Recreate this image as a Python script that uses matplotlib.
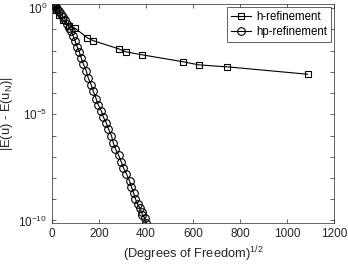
#===============================================================================
# Convergence plot: h- vs hp-refinement
#===============================================================================
import numpy as np
import matplotlib
matplotlib.use("Agg")
import matplotlib.pyplot as plt
from matplotlib.ticker import FixedLocator, FuncFormatter, NullLocator

#===============================================================================
# Data
#===============================================================================
h_dof = [4, 9, 17, 30, 47, 72, 98, 150, 176, 283, 313, 381, 557, 625, 745, 1088]
h_logerr = [0.20, 0.10, -0.10, -0.30, -0.55, -0.82, -0.94, -1.39, -1.53,
            -1.91, -2.05, -2.19, -2.52, -2.67, -2.76, -3.11]

hp_dof = [4, 9, 13, 17, 21, 30, 38, 47, 56, 64, 73, 81, 90, 98, 107, 116,
          124, 133, 146, 154, 167, 176, 188, 197, 210, 218, 231, 240, 253,
          261, 270, 283, 295, 304, 317, 330, 338, 347, 355, 364, 373, 381,
          385, 394, 398]
hp_logerr = [0.21, 0.17, 0.12, 0.07, -0.02, -0.12, -0.26, -0.40, -0.54,
             -0.73, -0.92, -1.06, -1.30, -1.53, -1.82, -2.05, -2.33, -2.62,
             -2.95, -3.28, -3.61, -3.92, -4.27, -4.55, -4.84, -5.12, -5.40,
             -5.68, -6.01, -6.35, -6.63, -6.91, -7.24, -7.52, -7.81, -8.14,
             -8.42, -8.70, -8.99, -9.22, -9.41, -9.60, -9.74, -9.88, -10.10]

labels = ['h-refinement', 'hp-refinement']
x_ticks = [0, 200, 400, 600, 800, 1000, 1200]

#===============================================================================
# Plot
#===============================================================================
plt.rcParams['font.family'] = ['Liberation Sans', 'DejaVu Sans']
plt.rcParams['font.size'] = 8
plt.rcParams['mathtext.fontset'] = 'custom'
plt.rcParams['mathtext.rm'] = 'Liberation Sans'
plt.rcParams['mathtext.it'] = 'Liberation Sans:italic'

fc = '#262626'
fig = plt.figure(figsize=(3.48, 2.64), dpi=100)
ax = fig.add_axes([52 / 348, 1 - 223 / 264, 282 / 348, 219 / 264])

ax.semilogy(h_dof, 10.0 ** np.array(h_logerr), '-s', color='k', lw=0.8,
            ms=5, mfc='none', mew=0.8, label=labels[0])
ax.semilogy(hp_dof, 10.0 ** np.array(hp_logerr), '-o', color='k', lw=0.8,
            ms=5.5, mfc='none', mew=0.8, label=labels[1])

ax.set_xlim(0, 1200)
ax.set_ylim(10 ** -10.12, 10 ** 0.2)
ax.set_xticks(x_ticks)
ax.yaxis.set_major_locator(FixedLocator(10.0 ** np.arange(-10, 1)))
ax.yaxis.set_minor_locator(NullLocator())


def ylab(v, pos):
    e = int(round(np.log10(v)))
    return r'$10^{%d}$' % e if e % 5 == 0 else ''


ax.yaxis.set_major_formatter(FuncFormatter(ylab))
ax.tick_params(direction='in', top=True, right=True, length=3, width=0.5,
               colors=fc, labelsize=8.5)
for s in ax.spines.values():
    s.set_color(fc)
    s.set_linewidth(0.5)

ax.set_xlabel(r'(Degrees of Freedom)$^{1/2}$', color=fc, fontsize=9.3, labelpad=3)
ax.set_ylabel(r'|E(u) - E(u$_{\mathrm{N}}$)|', color=fc, fontsize=9.3, labelpad=2)

leg = ax.legend(loc='upper right', fancybox=False, edgecolor=fc,
                framealpha=1, borderaxespad=0.3, handlelength=1.8,
                handletextpad=0.4, borderpad=0.3, labelspacing=0.3,
                fontsize=8.3)
leg.get_frame().set_linewidth(0.5)

plt.savefig('out.png', dpi=100)
